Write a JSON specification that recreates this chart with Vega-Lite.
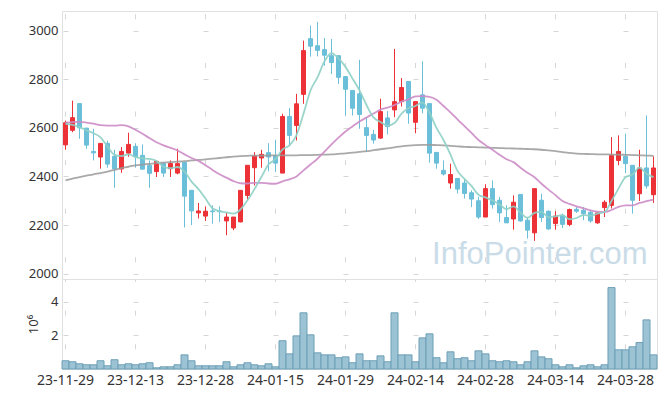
{
  "$schema": "https://vega.github.io/schema/vega-lite/v6.json",
  "background": "white",
  "padding": {"left": 27, "top": 10, "right": 9, "bottom": 5},
  "spacing": 0,
  "bounds": "flush",
  "config": {
    "view": {"stroke": "#e0e0e0", "strokeWidth": 1},
    "axis": {"labelFont": "Noto Sans", "labelFontSize": 13, "labelColor": "#333333", "domain": false, "ticks": false, "gridColor": "#d6d6d6", "gridWidth": 1, "titleFont": "Noto Sans"}
  },
  "datasets": {
    "k": [
      {"d":"23-11-29","o":2530,"h":2630,"l":2510,"c":2621,"v":0.49,"m5":2617,"m20":2621,"m60":2384},
      {"d":"23-11-30","o":2590,"h":2712,"l":2582,"c":2642,"v":0.43,"m5":2612,"m20":2624,"m60":2391},
      {"d":"23-12-01","o":2700,"h":2700,"l":2555,"c":2600,"v":0.31,"m5":2603,"m20":2625,"m60":2397},
      {"d":"23-12-04","o":2599,"h":2600,"l":2514,"c":2529,"v":0.25,"m5":2590,"m20":2622,"m60":2403},
      {"d":"23-12-05","o":2503,"h":2596,"l":2466,"c":2497,"v":0.25,"m5":2578,"m20":2617,"m60":2409},
      {"d":"23-12-06","o":2480,"h":2536,"l":2432,"c":2536,"v":0.49,"m5":2561,"m20":2611,"m60":2414},
      {"d":"23-12-07","o":2536,"h":2547,"l":2436,"c":2451,"v":0.19,"m5":2523,"m20":2609,"m60":2420},
      {"d":"23-12-08","o":2483,"h":2510,"l":2354,"c":2431,"v":0.55,"m5":2489,"m20":2609,"m60":2427},
      {"d":"23-12-11","o":2431,"h":2521,"l":2415,"c":2503,"v":0.25,"m5":2484,"m20":2611,"m60":2434},
      {"d":"23-12-12","o":2496,"h":2580,"l":2481,"c":2532,"v":0.31,"m5":2491,"m20":2606,"m60":2440},
      {"d":"23-12-13","o":2524,"h":2537,"l":2436,"c":2481,"v":0.25,"m5":2480,"m20":2592,"m60":2446},
      {"d":"23-12-14","o":2487,"h":2532,"l":2429,"c":2430,"v":0.31,"m5":2475,"m20":2576,"m60":2449},
      {"d":"23-12-15","o":2446,"h":2466,"l":2354,"c":2413,"v":0.37,"m5":2472,"m20":2558,"m60":2452},
      {"d":"23-12-18","o":2420,"h":2466,"l":2398,"c":2462,"v":0.07,"m5":2464,"m20":2541,"m60":2455},
      {"d":"23-12-19","o":2453,"h":2459,"l":2398,"c":2414,"v":0.13,"m5":2440,"m20":2528,"m60":2457},
      {"d":"23-12-20","o":2432,"h":2466,"l":2398,"c":2453,"v":0.13,"m5":2434,"m20":2518,"m60":2459},
      {"d":"23-12-21","o":2414,"h":2514,"l":2409,"c":2453,"v":0.25,"m5":2439,"m20":2507,"m60":2461},
      {"d":"23-12-22","o":2458,"h":2460,"l":2190,"c":2319,"v":0.84,"m5":2420,"m20":2491,"m60":2463},
      {"d":"23-12-26","o":2343,"h":2343,"l":2200,"c":2258,"v":0.49,"m5":2379,"m20":2476,"m60":2466},
      {"d":"23-12-27","o":2250,"h":2291,"l":2227,"c":2258,"v":0.19,"m5":2348,"m20":2464,"m60":2468},
      {"d":"23-12-28","o":2237,"h":2277,"l":2217,"c":2257,"v":0.19,"m5":2309,"m20":2446,"m60":2470},
      {"d":"24-01-02","o":2258,"h":2281,"l":2206,"c":2255,"v":0.19,"m5":2269,"m20":2427,"m60":2473},
      {"d":"24-01-03","o":2258,"h":2277,"l":2213,"c":2255,"v":0.19,"m5":2257,"m20":2409,"m60":2476},
      {"d":"24-01-04","o":2217,"h":2251,"l":2158,"c":2233,"v":0.43,"m5":2252,"m20":2395,"m60":2479},
      {"d":"24-01-05","o":2188,"h":2233,"l":2179,"c":2233,"v":0.13,"m5":2247,"m20":2381,"m60":2482},
      {"d":"24-01-08","o":2213,"h":2343,"l":2211,"c":2343,"v":0.25,"m5":2264,"m20":2372,"m60":2484},
      {"d":"24-01-09","o":2322,"h":2446,"l":2305,"c":2446,"v":0.37,"m5":2302,"m20":2371,"m60":2485},
      {"d":"24-01-10","o":2436,"h":2500,"l":2363,"c":2484,"v":0.25,"m5":2348,"m20":2374,"m60":2486},
      {"d":"24-01-11","o":2476,"h":2510,"l":2436,"c":2491,"v":0.19,"m5":2399,"m20":2374,"m60":2486},
      {"d":"24-01-12","o":2498,"h":2537,"l":2421,"c":2480,"v":0.31,"m5":2449,"m20":2371,"m60":2486},
      {"d":"24-01-15","o":2484,"h":2551,"l":2418,"c":2455,"v":0.13,"m5":2471,"m20":2370,"m60":2487},
      {"d":"24-01-16","o":2414,"h":2658,"l":2414,"c":2647,"v":1.68,"m5":2511,"m20":2380,"m60":2487},
      {"d":"24-01-17","o":2647,"h":2682,"l":2528,"c":2569,"v":0.90,"m5":2528,"m20":2388,"m60":2487},
      {"d":"24-01-18","o":2610,"h":2740,"l":2548,"c":2699,"v":1.97,"m5":2570,"m20":2400,"m60":2487},
      {"d":"24-01-19","o":2738,"h":2959,"l":2699,"c":2918,"v":3.34,"m5":2658,"m20":2425,"m60":2488},
      {"d":"24-01-22","o":2967,"h":3021,"l":2893,"c":2936,"v":2.03,"m5":2754,"m20":2449,"m60":2488},
      {"d":"24-01-23","o":2938,"h":3036,"l":2894,"c":2919,"v":0.96,"m5":2808,"m20":2473,"m60":2489},
      {"d":"24-01-24","o":2922,"h":2970,"l":2856,"c":2899,"v":0.84,"m5":2874,"m20":2502,"m60":2490},
      {"d":"24-01-25","o":2897,"h":2966,"l":2822,"c":2869,"v":0.84,"m5":2908,"m20":2532,"m60":2491},
      {"d":"24-01-26","o":2897,"h":2897,"l":2781,"c":2808,"v":0.67,"m5":2886,"m20":2560,"m60":2493},
      {"d":"24-01-29","o":2811,"h":2811,"l":2651,"c":2759,"v":0.72,"m5":2851,"m20":2585,"m60":2495},
      {"d":"24-01-30","o":2754,"h":2754,"l":2651,"c":2681,"v":0.37,"m5":2803,"m20":2606,"m60":2498},
      {"d":"24-01-31","o":2740,"h":2880,"l":2596,"c":2655,"v":0.90,"m5":2754,"m20":2626,"m60":2501},
      {"d":"24-02-01","o":2601,"h":2644,"l":2500,"c":2569,"v":0.49,"m5":2694,"m20":2643,"m60":2504},
      {"d":"24-02-02","o":2573,"h":2592,"l":2535,"c":2550,"v":0.49,"m5":2643,"m20":2659,"m60":2508},
      {"d":"24-02-05","o":2558,"h":2720,"l":2555,"c":2667,"v":0.78,"m5":2624,"m20":2675,"m60":2512},
      {"d":"24-02-06","o":2641,"h":2669,"l":2573,"c":2605,"v":0.43,"m5":2609,"m20":2683,"m60":2516},
      {"d":"24-02-07","o":2674,"h":2925,"l":2644,"c":2708,"v":3.34,"m5":2620,"m20":2694,"m60":2520},
      {"d":"24-02-08","o":2708,"h":2805,"l":2688,"c":2766,"v":0.84,"m5":2659,"m20":2708,"m60":2524},
      {"d":"24-02-13","o":2791,"h":2791,"l":2617,"c":2661,"v":0.84,"m5":2681,"m20":2717,"m60":2527},
      {"d":"24-02-14","o":2623,"h":2708,"l":2578,"c":2708,"v":0.43,"m5":2690,"m20":2730,"m60":2529},
      {"d":"24-02-15","o":2736,"h":2874,"l":2660,"c":2681,"v":1.85,"m5":2705,"m20":2731,"m60":2530},
      {"d":"24-02-16","o":2700,"h":2700,"l":2457,"c":2496,"v":2.09,"m5":2662,"m20":2728,"m60":2530},
      {"d":"24-02-19","o":2499,"h":2499,"l":2432,"c":2455,"v":0.67,"m5":2600,"m20":2716,"m60":2529},
      {"d":"24-02-20","o":2425,"h":2466,"l":2404,"c":2410,"v":0.37,"m5":2550,"m20":2690,"m60":2528},
      {"d":"24-02-21","o":2373,"h":2453,"l":2350,"c":2408,"v":1.02,"m5":2490,"m20":2664,"m60":2526},
      {"d":"24-02-22","o":2392,"h":2392,"l":2330,"c":2348,"v":0.61,"m5":2423,"m20":2635,"m60":2524},
      {"d":"24-02-23","o":2373,"h":2387,"l":2309,"c":2330,"v":0.67,"m5":2390,"m20":2607,"m60":2522},
      {"d":"24-02-26","o":2333,"h":2343,"l":2274,"c":2307,"v":0.49,"m5":2361,"m20":2579,"m60":2521},
      {"d":"24-02-27","o":2300,"h":2316,"l":2225,"c":2233,"v":1.08,"m5":2325,"m20":2550,"m60":2520},
      {"d":"24-02-28","o":2233,"h":2368,"l":2233,"c":2350,"v":0.90,"m5":2314,"m20":2529,"m60":2519},
      {"d":"24-02-29","o":2350,"h":2384,"l":2268,"c":2284,"v":0.49,"m5":2301,"m20":2510,"m60":2518},
      {"d":"24-03-04","o":2302,"h":2316,"l":2213,"c":2250,"v":0.43,"m5":2285,"m20":2489,"m60":2517},
      {"d":"24-03-05","o":2231,"h":2281,"l":2209,"c":2209,"v":0.49,"m5":2265,"m20":2471,"m60":2516},
      {"d":"24-03-06","o":2225,"h":2322,"l":2181,"c":2294,"v":0.43,"m5":2277,"m20":2459,"m60":2515},
      {"d":"24-03-07","o":2326,"h":2326,"l":2214,"c":2217,"v":0.25,"m5":2251,"m20":2436,"m60":2514},
      {"d":"24-03-08","o":2220,"h":2233,"l":2144,"c":2179,"v":0.43,"m5":2230,"m20":2415,"m60":2513},
      {"d":"24-03-11","o":2168,"h":2350,"l":2135,"c":2350,"v":1.08,"m5":2250,"m20":2397,"m60":2512},
      {"d":"24-03-12","o":2302,"h":2329,"l":2213,"c":2231,"v":0.72,"m5":2254,"m20":2370,"m60":2510},
      {"d":"24-03-13","o":2257,"h":2260,"l":2180,"c":2184,"v":0.61,"m5":2232,"m20":2346,"m60":2507},
      {"d":"24-03-14","o":2206,"h":2257,"l":2181,"c":2237,"v":0.25,"m5":2236,"m20":2323,"m60":2504},
      {"d":"24-03-15","o":2240,"h":2247,"l":2188,"c":2203,"v":0.13,"m5":2241,"m20":2299,"m60":2500},
      {"d":"24-03-18","o":2202,"h":2268,"l":2195,"c":2264,"v":0.25,"m5":2224,"m20":2287,"m60":2497},
      {"d":"24-03-19","o":2265,"h":2274,"l":2250,"c":2257,"v":0.07,"m5":2229,"m20":2277,"m60":2494},
      {"d":"24-03-20","o":2261,"h":2274,"l":2220,"c":2247,"v":0.19,"m5":2242,"m20":2269,"m60":2493},
      {"d":"24-03-21","o":2253,"h":2262,"l":2210,"c":2217,"v":0.25,"m5":2238,"m20":2260,"m60":2492},
      {"d":"24-03-22","o":2209,"h":2250,"l":2205,"c":2250,"v":0.13,"m5":2247,"m20":2255,"m60":2491},
      {"d":"24-03-25","o":2272,"h":2302,"l":2233,"c":2294,"v":0.25,"m5":2253,"m20":2253,"m60":2491},
      {"d":"24-03-26","o":2281,"h":2562,"l":2268,"c":2487,"v":4.84,"m5":2299,"m20":2262,"m60":2490},
      {"d":"24-03-27","o":2466,"h":2569,"l":2446,"c":2503,"v":1.14,"m5":2350,"m20":2275,"m60":2490},
      {"d":"24-03-28","o":2483,"h":2576,"l":2414,"c":2453,"v":1.14,"m5":2397,"m20":2281,"m60":2489},
      {"d":"24-03-29","o":2446,"h":2446,"l":2247,"c":2302,"v":1.32,"m5":2408,"m20":2281,"m60":2488},
      {"d":"24-04-01","o":2329,"h":2510,"l":2299,"c":2435,"v":1.57,"m5":2436,"m20":2291,"m60":2487},
      {"d":"24-04-02","o":2435,"h":2651,"l":2350,"c":2361,"v":2.92,"m5":2411,"m20":2298,"m60":2486},
      {"d":"24-04-03","o":2325,"h":2483,"l":2291,"c":2435,"v":0.84,"m5":2397,"m20":2305,"m60":2485}
    ]
  },
  "vconcat": [
    {
      "width": 595,
      "height": 268,
      "data": {"name": "k"},
      "encoding": {
        "x": {
          "field": "d", "type": "ordinal", "sort": null, "title": null,
          "scale": {"paddingInner": 0, "paddingOuter": 0},
          "axis": {"values": ["23-11-29","23-12-13","23-12-28","24-01-15","24-01-29","24-02-14","24-02-28","24-03-14","24-03-28"], "labels": false, "minExtent": 0, "maxExtent": 0, "offset": 0, "grid": true, "bandPosition": 0.5, "gridDash": [5, 43.59], "gridDashOffset": 45.74}
        }
      },
      "layer": [
        {
          "mark": {"type": "rule", "strokeWidth": 1},
          "encoding": {
            "y": {"field": "l", "type": "quantitative", "title": null,
                  "scale": {"domain": [1978, 3081], "nice": false, "zero": false},
                  "axis": {"values": [2000, 2200, 2400, 2600, 2800, 3000], "format": "d", "grid": true, "gridDash": [5, 65], "gridDashOffset": 69, "labelPadding": 4}},
            "y2": {"field": "h"},
            "color": {"condition": {"test": "datum.c >= datum.o", "value": "#ec3237"}, "value": "#6bbfd9"}
          }
        },
        {
          "mark": {"type": "bar", "size": 4, "strokeWidth": 1},
          "encoding": {
            "y": {"field": "o", "type": "quantitative", "title": null},
            "y2": {"field": "c"},
            "color": {"condition": {"test": "datum.c >= datum.o", "value": "#ec3237"}, "value": "#6bbfd9"},
            "stroke": {"condition": {"test": "datum.c >= datum.o", "value": "#ec3237"}, "value": "#6bbfd9"}
          }
        },
        {
          "mark": {"type": "line", "interpolate": "monotone", "strokeWidth": 1.8, "color": "#9a9a9a", "opacity": 0.85},
          "encoding": {"y": {"field": "m60", "type": "quantitative", "title": null}}
        },
        {
          "mark": {"type": "line", "interpolate": "monotone", "strokeWidth": 1.8, "color": "#cc8cc6", "opacity": 0.9},
          "encoding": {"y": {"field": "m20", "type": "quantitative", "title": null}}
        },
        {
          "mark": {"type": "line", "interpolate": "monotone", "strokeWidth": 1.8, "color": "#8fd0c6", "opacity": 0.9},
          "encoding": {"y": {"field": "m5", "type": "quantitative", "title": null}}
        },
        {
          "transform": [{"filter": "datum.d === '24-04-03'"}],
          "mark": {"type": "text", "text": "InfoPointer.com", "font": "Liberation Sans", "fontSize": 31, "color": "#c9dce8", "align": "right", "baseline": "alphabetic", "dx": -6},
          "encoding": {
            "y": {"datum": 2040, "type": "quantitative"}
          }
        }
      ]
    },
    {
      "width": 595,
      "height": 90,
      "data": {"name": "k"},
      "mark": {"type": "bar", "fill": "#9cc3d4", "stroke": "#6d9fb6", "strokeWidth": 1},
      "encoding": {
        "x": {
          "field": "d", "type": "ordinal", "sort": null, "title": null,
          "scale": {"paddingInner": 0, "paddingOuter": 0},
          "axis": {"values": ["23-11-29","23-12-13","23-12-28","24-01-15","24-01-29","24-02-14","24-02-28","24-03-14","24-03-28"], "labelAngle": 0, "labelFontSize": 14, "labelPadding": 4, "grid": true, "bandPosition": 0.5, "gridDash": [5, 28.64], "gridDashOffset": 2.5}
        },
        "y": {
          "field": "v", "type": "quantitative",
          "scale": {"domain": [0, 5.35], "nice": false},
          "axis": {"values": [2, 4], "title": "10⁶", "titleFontSize": 13, "titleFontWeight": "normal", "titleColor": "#333333", "titlePadding": 10, "grid": true, "gridDash": [5, 65], "gridDashOffset": 69, "labelPadding": 4}
        }
      }
    }
  ]
}
